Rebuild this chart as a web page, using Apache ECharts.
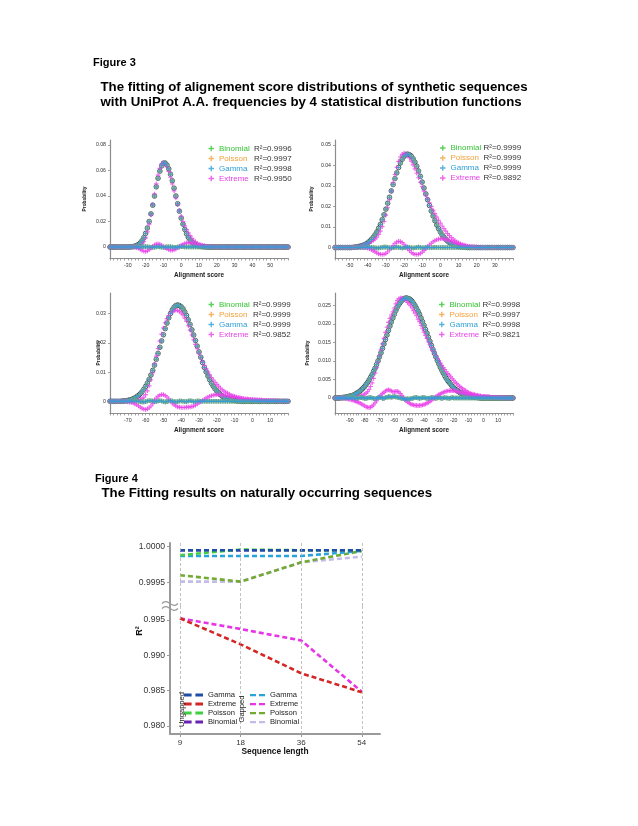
<!DOCTYPE html>
<html><head><meta charset="utf-8">
<script src="https://cdn.jsdelivr.net/npm/echarts@6/dist/echarts.min.js"></script>
<style>html,body{margin:0;padding:0;background:#fff}#c{width:638px;height:826px}</style>
</head><body><div id="c"></div>
<script>
// ---------------- DATA: Figure 3 ----------------
const fitNames = ['Binomial', 'Poisson', 'Gamma', 'Extreme'];

// Panel 1 : scores -40 .. 60
const p1ScoreStart = -40, p1ScoreEnd = 60;
const p1R2 = ['0.9996', '0.9997', '0.9998', '0.9950'];
const p1XLabels = [-30, -20, -10, 0, 10, 20, 30, 40, 50];
const p1YLabels = [0, 0.02, 0.04, 0.06, 0.08];
const p1Observed = [0,0,0,0,0,0,0,0,0,0,0,
0.0001,0.0002,0.0004,0.0007,0.0012,0.002,0.0032,0.005,0.0074,0.0107,
0.0149,0.02,0.026,0.0328,0.04,0.0472,0.0539,0.0595,0.0636,0.0657,
0.0658,0.0643,0.0613,0.0571,0.0519,0.0461,0.04,0.0339,0.0281,0.0227,
0.0179,0.0138,0.0104,0.0076,0.0055,0.0038,0.0026,0.0018,0.0011,0.0007,
0.0005,0.0003,0.0002,0.0001,
0,0,0,0,0,0,0,0,0,0, 0,0,0,0,0,0,0,0,0,0, 0,0,0,0,0,0,0,0,0,0, 0,0,0,0,0,0,0,0,0,0, 0,0,0,0,0,0];
const p1Extreme = [0,0,0,0,0,0,0,0,0,0,0,
0.0001,0.0002,0.0004,0.0005,0.0007,0.001,0.0014,0.0023,0.0041,0.0072,
0.0119,0.018,0.0252,0.0333,0.0416,0.0495,0.0564,0.0617,0.065,0.0661,
0.0652,0.0629,0.0593,0.0547,0.0494,0.0439,0.0385,0.0333,0.0285,0.024,
0.02,0.0166,0.0137,0.0111,0.0089,0.0069,0.0053,0.0041,0.003,0.0022,
0.0017,0.0012,0.0009,0.0006,0.0004,0.0003,0.0002,0.0001,
0,0,0,0,0,0,0,0,0,0, 0,0,0,0,0,0,0,0,0,0, 0,0,0,0,0,0,0,0,0,0, 0,0,0,0,0,0,0,0,0,0, 0,0];
const p1ExtremeResid = [0,0,0,0,0,0,0,0,0,0,0,
0,0,0,-0.0002,-0.0005,-0.001,-0.0018,-0.0027,-0.0033,-0.0035,
-0.003,-0.002,-0.0008,0.0005,0.0016,0.0023,0.0025,0.0022,0.0014,0.0004,
-0.0006,-0.0014,-0.002,-0.0024,-0.0025,-0.0022,-0.0015,-0.0006,0.0004,0.0013,
0.0021,0.0028,0.0033,0.0035,0.0034,0.0031,0.0027,0.0023,0.0019,0.0015,
0.0012,0.0009,0.0007,0.0005,0.0004,0.0003,0.0002,0.0001,
0,0,0,0,0,0,0,0,0,0, 0,0,0,0,0,0,0,0,0,0, 0,0,0,0,0,0,0,0,0,0, 0,0,0,0,0,0,0,0,0,0, 0,0];
const p1GammaResid = [0,0,0,0,0,0,0,0,0,0, 0,0,0,0,0,0,0,0,
0.0001,0.0002,0.0003,0.0002,0,-0.0002,-0.0003,-0.0002,0.0001,0.0002,
0.0001,-0.0001,-0.0002,-0.0001,0.0001,0.0002,0.0001,-0.0001,-0.0002,-0.0002,
-0.0001,0.0001,0.0002,0.0002,0.0001,0.0001,0,0.0001,0.0001,0,
0,0,0,0,0,0,0,0,0,0, 0,0,0,0,0,0,0,0,0,0, 0,0,0,0,0,0,0,0,0,0, 0,0,0,0,0,0,0,0,0,0, 0,0,0,0,0,0,0,0,0,0, 0,0,0];

// Panel 2 : scores -58 .. 40
const p2ScoreStart = -58, p2ScoreEnd = 40;
const p2R2 = ['0.9999', '0.9999', '0.9999', '0.9892'];
const p2XLabels = [-50, -40, -30, -20, -10, 0, 10, 20, 30];
const p2YLabels = [0, 0.01, 0.02, 0.03, 0.04, 0.05];
const p2Observed = [0,0,0,0,0,0,0,0,0,0,
0.0001,0.0002,0.0003,0.0005,0.0007,0.001,0.0013,0.0017,0.0023,0.003,
0.0039,0.0049,0.0062,0.0076,0.0094,0.0113,0.0136,0.016,0.0187,0.0216,
0.0245,0.0276,0.0307,0.0336,0.0364,0.039,0.0412,0.043,0.0444,0.0452,
0.0455,0.0452,0.0445,0.0433,0.0416,0.0396,0.0373,0.0347,0.0319,0.029,
0.0261,0.0233,0.0205,0.0178,0.0154,0.0131,0.011,0.0092,0.0076,0.0062,
0.005,0.004,0.0031,0.0024,0.0019,0.0014,0.0011,0.0008,0.0006,0.0004,
0.0003,0.0002,0.0001,
0,0,0,0,0,0,0,0,0,0, 0,0,0,0,0,0,0,0,0,0, 0,0,0,0,0,0];
const p2Extreme = [0,0,0,0,0,0,0,0,0,0,
0.0001,0.0002,0.0003,0.0005,0.0007,0.001,0.0013,0.0017,0.002,0.0024,
0.0029,0.0034,0.0042,0.005,0.0064,0.008,0.0102,0.0127,0.0158,0.0194,
0.0233,0.0275,0.0317,0.0356,0.0391,0.042,0.0441,0.0454,0.046,0.0458,
0.045,0.0437,0.0421,0.0403,0.0383,0.0362,0.034,0.0318,0.0296,0.0275,
0.0255,0.0237,0.0218,0.0199,0.0182,0.0165,0.0148,0.0133,0.0119,0.0105,
0.0092,0.008,0.0068,0.0058,0.0049,0.0041,0.0034,0.0028,0.0023,0.0018,
0.0015,0.0012,0.0009,0.0006,0.0005,0.0004,0.0003,0.0002,0.0002,0.0001,
0.0001,
0,0,0,0,0,0,0,0,0,0, 0,0,0,0,0,0,0,0];
const p2ExtremeResid = [0,0,0,0,0,0,0,0,0,0, 0,0,0,0,0,0,0,0,
-0.0003,-0.0006,-0.001,-0.0015,-0.002,-0.0026,-0.003,-0.0033,-0.0034,-0.0033,
-0.0029,-0.0022,-0.0012,-0.0001,0.001,0.002,0.0027,0.003,0.0029,0.0024,
0.0016,0.0006,-0.0005,-0.0015,-0.0024,-0.003,-0.0033,-0.0034,-0.0033,-0.0029,
-0.0023,-0.0015,-0.0006,0.0004,0.0013,0.0021,0.0028,0.0034,0.0038,0.0041,
0.0043,0.0043,0.0042,0.004,0.0037,0.0034,0.003,0.0027,0.0023,0.002,
0.0017,0.0014,0.0012,0.001,0.0008,0.0006,0.0005,0.0004,0.0003,0.0002,
0.0002,0.0001,0.0001,
0,0,0,0,0,0,0,0,0,0, 0,0,0,0,0,0,0,0];
const p2GammaResid = [0,0,0,0,0,0,0,0,0,0, 0,0,0,0,0,0,
0.0001,0.0001,0.0002,0.0002,0.0001,0,-0.0001,-0.0002,-0.0002,-0.0001,
0.0001,0.0002,0.0002,0.0001,-0.0001,-0.0002,-0.0001,0.0001,0.0002,0.0001,
-0.0001,-0.0002,-0.0001,0.0001,0.0002,0.0001,-0.0001,-0.0002,-0.0001,0.0001,
0.0002,0.0001,-0.0001,-0.0001,0.0001,0.0001,0,-0.0001,0,0.0001,
0,0,0,0,0,0,0,0,0,0, 0,0,0,0,0,0,0,0,0,0, 0,0,0,0,0,0,0,0,0,0, 0,0,0,0,0,0,0,0,0,0, 0,0,0];

// Panel 3 : scores -80 .. 20
const p3ScoreStart = -80, p3ScoreEnd = 20;
const p3R2 = ['0.9999', '0.9999', '0.9999', '0.9852'];
const p3XLabels = [-70, -60, -50, -40, -30, -20, -10, 0, 10];
const p3YLabels = [0, 0.01, 0.02, 0.03];
const p3Observed = [0,0,0,0,0,0,0,
0.0001,0.0001,0.0002,0.0003,0.0005,0.0006,0.0009,0.0012,0.0016,0.002,
0.0026,0.0033,0.0041,0.0051,0.0062,0.0075,0.009,0.0106,0.0124,0.0144,
0.0164,0.0185,0.0207,0.0228,0.0249,0.0268,0.0286,0.0301,0.0313,0.0322,
0.0328,0.033,0.0328,0.0324,0.0317,0.0306,0.0294,0.0279,0.0263,0.0245,
0.0227,0.0208,0.0189,0.0169,0.0151,0.0133,0.0116,0.0101,0.0087,0.0074,
0.0062,0.0052,0.0043,0.0035,0.0029,0.0023,0.0018,0.0014,0.0011,0.0009,
0.0007,0.0005,0.0004,0.0003,0.0002,0.0001,0.0001,
0,0,0,0,0,0,0,0,0,0, 0,0,0,0,0,0,0,0,0,0, 0,0,0,0,0,0,0];
const p3Extreme = [0,0,0,0,0,0,0,
0.0001,0.0001,0.0002,0.0001,0.0002,0.0002,0.0003,0.0003,0.0004,0.0004,
0.0006,0.0009,0.0014,0.0023,0.0036,0.0053,0.0074,0.0098,0.0128,0.0155,
0.0181,0.0206,0.023,0.0251,0.0269,0.0283,0.0294,0.0302,0.0307,0.031,
0.0312,0.0311,0.0308,0.0303,0.0296,0.0285,0.0274,0.0259,0.0244,0.0227,
0.0211,0.0195,0.018,0.0164,0.015,0.0136,0.0123,0.0112,0.0101,0.0091,
0.0081,0.0073,0.0065,0.0058,0.0052,0.0045,0.0039,0.0035,0.0031,0.0028,
0.0025,0.0021,0.0019,0.0017,0.0015,0.0013,0.0012,0.001,0.0009,0.0008,
0.0008,0.0007,0.0006,0.0006,0.0005,0.0005,0.0004,0.0004,0.0004,0.0003,
0.0003,0.0003,0.0002,0.0002,0.0002,0.0002,0.0001,0.0001,0.0001,
0,0,0,0,0];
const p3ExtremeResid = [0,0,0,0,0,0,0,0,0,0,
-0.0002,-0.0003,-0.0004,-0.0006,-0.0009,-0.0012,-0.0016,-0.002,-0.0024,-0.0027,
-0.0028,-0.0026,-0.0022,-0.0016,-0.0008,0.0004,0.0011,0.0017,0.0021,0.0023,
0.0023,0.002,0.0015,0.0008,0.0001,-0.0006,-0.0012,-0.0016,-0.0019,-0.002,
-0.0021,-0.0021,-0.0021,-0.002,-0.002,-0.0019,-0.0018,-0.0016,-0.0013,-0.0009,
-0.0005,-0.0001,0.0003,0.0007,0.0011,0.0014,0.0017,0.0019,0.0021,0.0022,
0.0023,0.0023,0.0022,0.0021,0.0021,0.002,0.0019,0.0018,0.0016,0.0015,
0.0014,0.0013,0.0012,0.0011,0.001,0.0009,0.0008,0.0008,0.0007,0.0006,
0.0006,0.0005,0.0005,0.0004,0.0004,0.0004,0.0003,0.0003,0.0003,0.0002,
0.0002,0.0002,0.0002,0.0001,0.0001,0.0001,
0,0,0,0,0];
const p3GammaResid = [0,0,0,0,0,0,0,0,0,0, 0,0,
0.0001,0.0001,0.0002,0.0001,0,-0.0001,-0.0002,-0.0002,-0.0001,0.0001,
0.0002,0.0002,0.0001,-0.0001,-0.0001,0.0001,0.0002,0.0001,-0.0001,-0.0002,
-0.0001,0.0001,0.0002,0.0001,-0.0001,-0.0002,-0.0001,0.0001,0.0001,0,
-0.0001,-0.0001,0.0001,0.0002,0.0001,-0.0001,-0.0001,0.0001,0.0001,0,
0,0,0,0,0,0,0,0,0,0, 0,0,0,0,0,0,0,0,0,0, 0,0,0,0,0,0,0,0,0,0, 0,0,0,0,0,0,0,0,0,0, 0,0,0,0,0,0,0,0,0];

// Panel 4 : scores -100 .. 20
const p4ScoreStart = -100, p4ScoreEnd = 20;
const p4R2 = ['0.9998', '0.9997', '0.9998', '0.9821'];
const p4XLabels = [-90, -80, -70, -60, -50, -40, -30, -20, -10, 0, 10];
const p4YLabels = [0, 0.005, 0.01, 0.015, 0.02, 0.025];
const p4Observed = [0,0,0,0,
0.0001,0.0001,0.0002,0.0002,0.0003,0.0004,0.0005,0.0006,0.0007,0.0009,
0.0011,0.0014,0.0016,0.0019,0.0023,0.0027,0.0031,0.0037,0.0042,0.0049,
0.0056,0.0063,0.0072,0.008,0.009,0.01,0.0111,0.0122,0.0134,0.0146,
0.0158,0.017,0.0182,0.0194,0.0205,0.0216,0.0226,0.0236,0.0245,0.0252,
0.0258,0.0263,0.0267,0.0269,0.027,0.0269,0.0268,0.0265,0.0261,0.0255,
0.0249,0.0242,0.0234,0.0226,0.0216,0.0206,0.0196,0.0185,0.0175,0.0164,
0.0153,0.0142,0.0131,0.0121,0.0111,0.0101,0.0092,0.0083,0.0075,0.0067,
0.006,0.0053,0.0047,0.0042,0.0037,0.0032,0.0028,0.0024,0.0021,0.0018,
0.0015,0.0013,0.0011,0.0009,0.0008,0.0006,0.0005,0.0004,0.0003,0.0003,
0.0002,0.0002,0.0001,0.0001,
0,0,0,0,0,0,0,0,0,0, 0,0,0,0,0,0,0,0,0,0, 0,0,0];
const p4Extreme = [0,0,0,0,
0.0001,0.0001,0.0001,0.0001,0.0001,0.0001,0.0001,0.0001,0.0001,0.0002,
0.0002,0.0003,0.0004,0.0005,0.0006,0.0008,0.001,0.0013,0.0017,0.0023,
0.0031,0.0041,0.0053,0.0067,0.0082,0.0098,0.0114,0.013,0.0146,0.0161,
0.0177,0.0191,0.0204,0.0215,0.0224,0.0233,0.0243,0.0254,0.0263,0.0268,
0.027,0.027,0.0269,0.0266,0.0263,0.0258,0.0254,0.0249,0.0243,0.0236,
0.0229,0.0222,0.0213,0.0206,0.0196,0.0187,0.0178,0.0169,0.0161,0.0152,
0.0144,0.0136,0.0128,0.0121,0.0114,0.0107,0.0101,0.0094,0.0088,0.0082,
0.0077,0.0071,0.0066,0.0062,0.0057,0.0052,0.0048,0.0043,0.0039,0.0035,
0.0031,0.0028,0.0025,0.0022,0.002,0.0017,0.0015,0.0013,0.0011,0.0011,
0.0009,0.0008,0.0007,0.0006,0.0005,0.0004,0.0004,0.0004,0.0003,0.0003,
0.0003,0.0002,0.0002,0.0002,0.0002,0.0002,0.0001,0.0001,0.0001,0.0001,
0.0001,0.0001,
0,0,0,0,0];
const p4ExtremeResid = [0,0,0,0,0,0,
-0.0001,-0.0001,-0.0002,-0.0003,-0.0004,-0.0005,-0.0006,-0.0007,-0.0009,-0.0011,
-0.0012,-0.0014,-0.0017,-0.0019,-0.0021,-0.0024,-0.0025,-0.0026,-0.0025,-0.0022,
-0.0019,-0.0013,-0.0008,-0.0002,0.0003,0.0008,0.0012,0.0015,0.0019,0.0021,
0.0022,0.0021,0.0019,0.0017,0.0017,0.0018,0.0018,0.0016,0.0012,0.0007,
0.0002,-0.0003,-0.0007,-0.0011,-0.0014,-0.0016,-0.0018,-0.0019,-0.002,-0.002,
-0.0021,-0.002,-0.002,-0.0019,-0.0018,-0.0016,-0.0014,-0.0012,-0.0009,-0.0006,
-0.0003,0,0.0003,0.0006,0.0009,0.0011,0.0013,0.0015,0.0017,0.0018,
0.0019,0.002,0.002,0.002,0.002,0.0019,0.0018,0.0017,0.0016,0.0015,
0.0014,0.0013,0.0012,0.0011,0.001,0.0009,0.0008,0.0008,0.0007,0.0006,
0.0006,0.0005,0.0005,0.0004,0.0004,0.0004,0.0003,0.0003,0.0003,0.0002,
0.0002,0.0002,0.0002,0.0002,0.0001,0.0001,0.0001,0.0001,0.0001,0.0001,
0,0,0,0,0];
const p4GammaResid = [0,0,0,0,0,0,0,0,0,0,
0.0001,0.0001,0.0001,0,-0.0001,-0.0001,0,0.0001,0.0001,0,
-0.0001,-0.0001,0,0.0001,0.0001,0,-0.0001,-0.0002,-0.0001,0.0001,
0.0002,0.0001,-0.0001,-0.0001,0.0001,0.0002,0.0003,0.0003,0.0002,0.0003,
0.0004,0.0003,0.0002,0.0001,0,-0.0001,-0.0002,-0.0003,-0.0003,-0.0002,
-0.0003,-0.0002,-0.0001,0,0.0001,0.0001,0,-0.0001,0,0.0001,
0.0001,0,-0.0001,-0.0001,0,0.0001,0.0001,0,-0.0001,0,
0.0001,0,-0.0001,0,0.0001,0,0,-0.0001,0,0.0001,
0,0,0,0,0,0,0,0,0,0, 0,0,0,0,0,0,0,0,0,0, 0,0,0,0,0,0,0,0,0,0, 0,0,0,0,0,0,0,0,0,0, 0];

// ---------------- DATA: Figure 4 ----------------
const seqLengths = ['9', '18', '36', '54'];
const ungappedGamma    = [0.99995, 0.99995, 0.99995, 0.99995];
const ungappedExtreme  = [0.99524, 0.99156, 0.98746, 0.98477];
const ungappedPoisson  = [0.99988, 0.99996, 0.99995, 0.99995];
const ungappedBinomial = [0.99995, 0.99995, 0.99995, 0.99995];
const gappedGamma      = [0.99987, 0.99987, 0.99987, 0.99994];
const gappedExtreme    = [0.99524, 0.99373, 0.99210, 0.98485];
const gappedPoisson    = [0.99960, 0.99951, 0.99978, 0.99994];
const gappedBinomial   = [0.99951, 0.99951, 0.99978, 0.99986];
const fig4UpperTicks = [0.9995, 1.0];
const fig4LowerTicks = [0.98, 0.985, 0.99, 0.995];

// ---------------- LAYOUT / STYLE ----------------
const FONT = '"Liberation Sans", Arial, Helvetica, sans-serif';
const PLUS = 'path://M3,0H5V3H8V5H5V8H3V5H0V3H3Z';
const DASH_ICON = 'path://M0,0H8V3H0ZM12,0H20V3H12Z';
const fitColors = {Binomial: '#35c435', Poisson: '#f2a23c', Gamma: '#2e9fd6', Extreme: '#e840e8'};
const AXIS_GRAY = '#8c8c8c';

const panels = [
  {start: p1ScoreStart, end: p1ScoreEnd, obs: p1Observed, ext: p1Extreme, extRes: p1ExtremeResid, gamRes: p1GammaResid, r2: p1R2, xLabels: p1XLabels, yLabels: p1YLabels, dec: 2},
  {start: p2ScoreStart, end: p2ScoreEnd, obs: p2Observed, ext: p2Extreme, extRes: p2ExtremeResid, gamRes: p2GammaResid, r2: p2R2, xLabels: p2XLabels, yLabels: p2YLabels, dec: 2},
  {start: p3ScoreStart, end: p3ScoreEnd, obs: p3Observed, ext: p3Extreme, extRes: p3ExtremeResid, gamRes: p3GammaResid, r2: p3R2, xLabels: p3XLabels, yLabels: p3YLabels, dec: 2},
  {start: p4ScoreStart, end: p4ScoreEnd, obs: p4Observed, ext: p4Extreme, extRes: p4ExtremeResid, gamRes: p4GammaResid, r2: p4R2, xLabels: p4XLabels, yLabels: p4YLabels, dec: 3}
];
const panelLayout = [
  {left: 110, top: 140, width: 178, height: 118, yMin: -0.0086, yMax: 0.0839, yNameGap: 22.6, legendLeft: 208.5, legendTop: 144, nameW: 35},
  {left: 335, top: 140, width: 178, height: 118, yMin: -0.0051, yMax: 0.0524, yNameGap: 21, legendLeft: 440, legendTop: 143.5, nameW: 33},
  {left: 110, top: 293, width: 178, height: 120, yMin: -0.0040, yMax: 0.0371, yNameGap: 8.6, legendLeft: 208.5, legendTop: 300, nameW: 34},
  {left: 335, top: 293, width: 178, height: 120, yMin: -0.00405, yMax: 0.02835, yNameGap: 24.6, legendLeft: 439, legendTop: 300, nameW: 33}
];
const fig4Layout = {left: 170, width: 210, upperTop: 543, splitY: 606, bottom: 734,
  xMin: -0.165, xMax: 3.3, upperMin: 0.999167, upperMax: 1.000052, lowerMin: 0.978868, lowerMax: 0.996981};

const pairs = (start, arr) => arr.map((v, k) => [start + k, v]);

const grids = [], xAxes = [], yAxes = [], series = [], legends = [];

panels.forEach((p, i) => {
  const L = panelLayout[i];
  const n = p.end - p.start + 1;
  [['obs', p.obs], ['ext', p.ext], ['extRes', p.extRes], ['gamRes', p.gamRes]].forEach(([k, a]) => {
    if (a.length !== n) throw new Error('panel ' + (i + 1) + ' ' + k + ' length ' + a.length + ' != ' + n);
  });
  grids.push({left: L.left, top: L.top, width: L.width, height: L.height, containLabel: false, outerBoundsMode: 'none'});
  const tickVals = [];
  for (let v = p.start; v <= p.end; v += 2) tickVals.push(v);
  xAxes.push({
    type: 'value', gridIndex: i, min: p.start, max: p.end,
    name: 'Alignment score', nameLocation: 'middle', nameGap: 14, nameMoveOverlap: false,
    nameTextStyle: {fontFamily: FONT, fontSize: 6.4, fontWeight: 'bold', color: '#222'},
    axisLine: {show: true, onZero: false, lineStyle: {color: AXIS_GRAY, width: 1.2}},
    axisTick: {show: true, customValues: tickVals, length: 2.5, lineStyle: {color: AXIS_GRAY, width: 0.8}},
    axisLabel: {customValues: p.xLabels, fontSize: 5.2, color: '#333', fontFamily: FONT, margin: 5},
    splitLine: {show: false}
  });
  yAxes.push({
    type: 'value', gridIndex: i, min: L.yMin, max: L.yMax,
    name: 'Probability', nameLocation: 'middle', nameGap: L.yNameGap, nameRotate: 90, nameMoveOverlap: false,
    nameTextStyle: {fontFamily: FONT, fontSize: 4.8, fontWeight: 'bold', color: '#222'},
    axisLine: {show: true, onZero: false, lineStyle: {color: AXIS_GRAY, width: 1.2}},
    axisTick: {show: true, customValues: p.yLabels, length: 2, lineStyle: {color: AXIS_GRAY, width: 0.8}},
    axisLabel: {customValues: p.yLabels, fontSize: 5.2, color: '#333', fontFamily: FONT, margin: 4,
      formatter: v => (Math.abs(v) < 1e-12 ? '0' : v.toFixed(p.dec))},
    splitLine: {show: false}
  });
  series.push({type: 'scatter', name: 'Observed', xAxisIndex: i, yAxisIndex: i, silent: true,
    symbol: 'circle', symbolSize: 4.6,
    itemStyle: {color: 'rgba(0,0,0,0)', borderColor: '#16203a', borderWidth: 0.9},
    data: pairs(p.start, p.obs)});
  const fitData = {Binomial: p.obs, Poisson: p.obs, Gamma: p.obs, Extreme: p.ext};
  const resData = {Binomial: p.gamRes, Poisson: p.gamRes, Gamma: p.gamRes, Extreme: p.extRes};
  ['Binomial', 'Poisson', 'Extreme', 'Gamma'].forEach(nm => {
    series.push({type: 'scatter', name: nm, xAxisIndex: i, yAxisIndex: i, silent: true,
      symbol: PLUS, symbolSize: 4.6, itemStyle: {color: fitColors[nm]}, data: pairs(p.start, fitData[nm])});
  });
  ['Binomial', 'Poisson', 'Extreme', 'Gamma'].forEach(nm => {
    series.push({type: 'scatter', name: nm + ' residual', xAxisIndex: i, yAxisIndex: i, silent: true,
      symbol: PLUS, symbolSize: 4.6, itemStyle: {color: fitColors[nm]}, data: pairs(p.start, resData[nm])});
  });
  const keys = {Binomial: 'b', Poisson: 'p', Gamma: 'g', Extreme: 'e'};
  const rich = {r: {color: '#333', fontSize: 8, fontFamily: FONT}};
  fitNames.forEach(nm => { rich[keys[nm]] = {color: fitColors[nm], width: L.nameW, fontSize: 8, fontFamily: FONT}; });
  legends.push({
    left: L.legendLeft, top: L.legendTop, orient: 'vertical', padding: 0, itemGap: 1,
    itemWidth: 5.5, itemHeight: 5.5, icon: PLUS, selectedMode: false, data: fitNames,
    textStyle: {fontSize: 8, lineHeight: 9, fontFamily: FONT, rich: rich},
    formatter: nm => '{' + keys[nm] + '|' + nm + '}{r|R\u00B2=' + p.r2[fitNames.indexOf(nm)] + '}'
  });
});

// ---------------- Figure 4 ----------------
const F = fig4Layout;
const gU = grids.length, gL = grids.length + 1;
grids.push({left: F.left, top: F.upperTop, width: F.width, height: F.splitY - F.upperTop, containLabel: false, outerBoundsMode: 'none'});
grids.push({left: F.left, top: F.splitY, width: F.width, height: F.bottom - F.splitY, containLabel: false, outerBoundsMode: 'none'});
const idx = [0, 1, 2, 3];
xAxes.push({type: 'value', gridIndex: gU, min: F.xMin, max: F.xMax, show: false});
xAxes.push({type: 'value', gridIndex: gL, min: F.xMin, max: F.xMax,
  name: 'Sequence length', nameLocation: 'middle', nameGap: 14, nameMoveOverlap: false,
  nameTextStyle: {fontFamily: FONT, fontSize: 8.4, fontWeight: 'bold', color: '#111'},
  axisLine: {show: true, onZero: false, lineStyle: {color: '#9a9a9a', width: 2}},
  axisTick: {show: true, customValues: idx, length: 3, lineStyle: {color: '#9a9a9a', width: 1}},
  axisLabel: {customValues: idx, formatter: v => seqLengths[Math.round(v)], fontSize: 8, color: '#333', fontFamily: FONT, margin: 5},
  splitLine: {show: false}});
yAxes.push({type: 'value', gridIndex: gU, min: F.upperMin, max: F.upperMax,
  axisLine: {show: true, onZero: false, lineStyle: {color: '#9a9a9a', width: 2}},
  axisTick: {show: true, customValues: fig4UpperTicks, length: 3, lineStyle: {color: '#9a9a9a', width: 1}},
  axisLabel: {customValues: fig4UpperTicks, formatter: v => v.toFixed(4), fontSize: 8.6, color: '#333', fontFamily: FONT, margin: 5},
  splitLine: {show: false}});
yAxes.push({type: 'value', gridIndex: gL, min: F.lowerMin, max: F.lowerMax,
  axisLine: {show: true, onZero: false, lineStyle: {color: '#9a9a9a', width: 2}},
  axisTick: {show: true, customValues: fig4LowerTicks, length: 3, lineStyle: {color: '#9a9a9a', width: 1}},
  axisLabel: {customValues: fig4LowerTicks, formatter: v => v.toFixed(3), fontSize: 8.6, color: '#333', fontFamily: FONT, margin: 5},
  splitLine: {show: false}});

const vLines = {silent: true, symbol: ['none', 'none'], label: {show: false},
  lineStyle: {color: '#b4b4b4', type: [3, 2], width: 0.8}, data: seqLengths.map((_, k) => ({xAxis: k}))};
const fig4Series = [
  ['Binomial (Gapped)', gappedBinomial, '#c4bce8', gU, true],
  ['Poisson (Gapped)', gappedPoisson, '#72aa32', gU, false],
  ['Gamma (Gapped)', gappedGamma, '#2aa3da', gU, false],
  ['Binomial (Ungapped)', ungappedBinomial, '#6a22b4', gU, false],
  ['Poisson (Ungapped)', ungappedPoisson, '#3fcf3f', gU, false],
  ['Gamma (Ungapped)', ungappedGamma, '#1f4ea8', gU, false],
  ['Extreme (Gapped)', gappedExtreme, '#e634e6', gL, true],
  ['Extreme (Ungapped)', ungappedExtreme, '#d42626', gL, false]
];
fig4Series.forEach(([nm, vals, col, g, ml]) => {
  const s = {type: 'line', name: nm, xAxisIndex: g, yAxisIndex: g, silent: true, symbol: 'none',
    color: col, itemStyle: {color: col}, lineStyle: {color: col, width: 2.6, type: [5, 3]},
    data: vals.map((v, k) => [k, v])};
  if (ml) s.markLine = vLines;
  series.push(s);
});
const stripName = nm => nm.split(' ')[0];
legends.push({left: 184, top: 691, orient: 'vertical', padding: 0, itemGap: 1, itemWidth: 19, itemHeight: 8,
  icon: DASH_ICON, symbolKeepAspect: true,
  selectedMode: false, data: ['Gamma (Ungapped)', 'Extreme (Ungapped)', 'Poisson (Ungapped)', 'Binomial (Ungapped)'],
  formatter: stripName, textStyle: {fontSize: 7.6, lineHeight: 8, color: '#222', fontFamily: FONT}});
legends.push({left: 250, top: 691, orient: 'vertical', padding: 0, itemGap: 1, itemWidth: 15, itemHeight: 8,
  icon: DASH_ICON, symbolKeepAspect: true,
  selectedMode: false, data: ['Gamma (Gapped)', 'Extreme (Gapped)', 'Poisson (Gapped)', 'Binomial (Gapped)'],
  formatter: stripName, textStyle: {fontSize: 7.6, lineHeight: 8, color: '#222', fontFamily: FONT}});

const labelStyle = {fontFamily: FONT, fontSize: 11, fontWeight: 'bold', color: '#000', lineHeight: 13};
const titleStyle = {fontFamily: FONT, fontSize: 13.25, fontWeight: 'bold', color: '#000', lineHeight: 15};
const option = {
  animation: false,
  backgroundColor: '#fff',
  textStyle: {fontFamily: FONT},
  title: [
    {text: 'Figure 3', left: 93, top: 56, padding: 0, textStyle: labelStyle},
    {text: 'The fitting of alignement score distributions of synthetic sequences\nwith UniProt A.A. frequencies by 4 statistical distribution functions',
      left: 100.5, top: 79.5, padding: 0, textStyle: titleStyle},
    {text: 'Figure 4', left: 95, top: 472, padding: 0, textStyle: labelStyle},
    {text: 'The Fitting results on naturally occurring sequences', left: 101.5, top: 486, padding: 0, textStyle: titleStyle}
  ],
  grid: grids, xAxis: xAxes, yAxis: yAxes, legend: legends, series: series,
  graphic: [
    {type: 'text', x: 140, y: 631, rotation: Math.PI / 2, z: 50,
      style: {text: 'R\u00B2', font: 'bold 9px ' + FONT, fill: '#111', align: 'center', verticalAlign: 'middle'}},
    {type: 'text', x: 181.5, y: 709.5, rotation: Math.PI / 2, z: 50,
      style: {text: 'Ungapped', font: '7.6px ' + FONT, fill: '#222', align: 'center', verticalAlign: 'middle'}},
    {type: 'text', x: 242, y: 709, rotation: Math.PI / 2, z: 50,
      style: {text: 'Gapped', font: '7.6px ' + FONT, fill: '#222', align: 'center', verticalAlign: 'middle'}},
    {type: 'group', x: F.left, y: F.splitY, z: 60, children: [
      {type: 'rect', shape: {x: -3, y: -3, width: 6, height: 6}, style: {fill: '#fff'}},
      {type: 'bezierCurve', shape: {x1: -8, y1: -2.5, x2: 8, y2: -2.5, cpx1: -2, cpy1: -9, cpx2: 2, cpy2: 4}, style: {stroke: '#999', fill: null, lineWidth: 1.2}},
      {type: 'bezierCurve', shape: {x1: -8, y1: 2.5, x2: 8, y2: 2.5, cpx1: -2, cpy1: -4, cpx2: 2, cpy2: 9}, style: {stroke: '#999', fill: null, lineWidth: 1.2}}
    ]}
  ]
};
const chart = echarts.init(document.getElementById('c'), null, {renderer: 'canvas'});
chart.setOption(option);
</script>
</body></html>
